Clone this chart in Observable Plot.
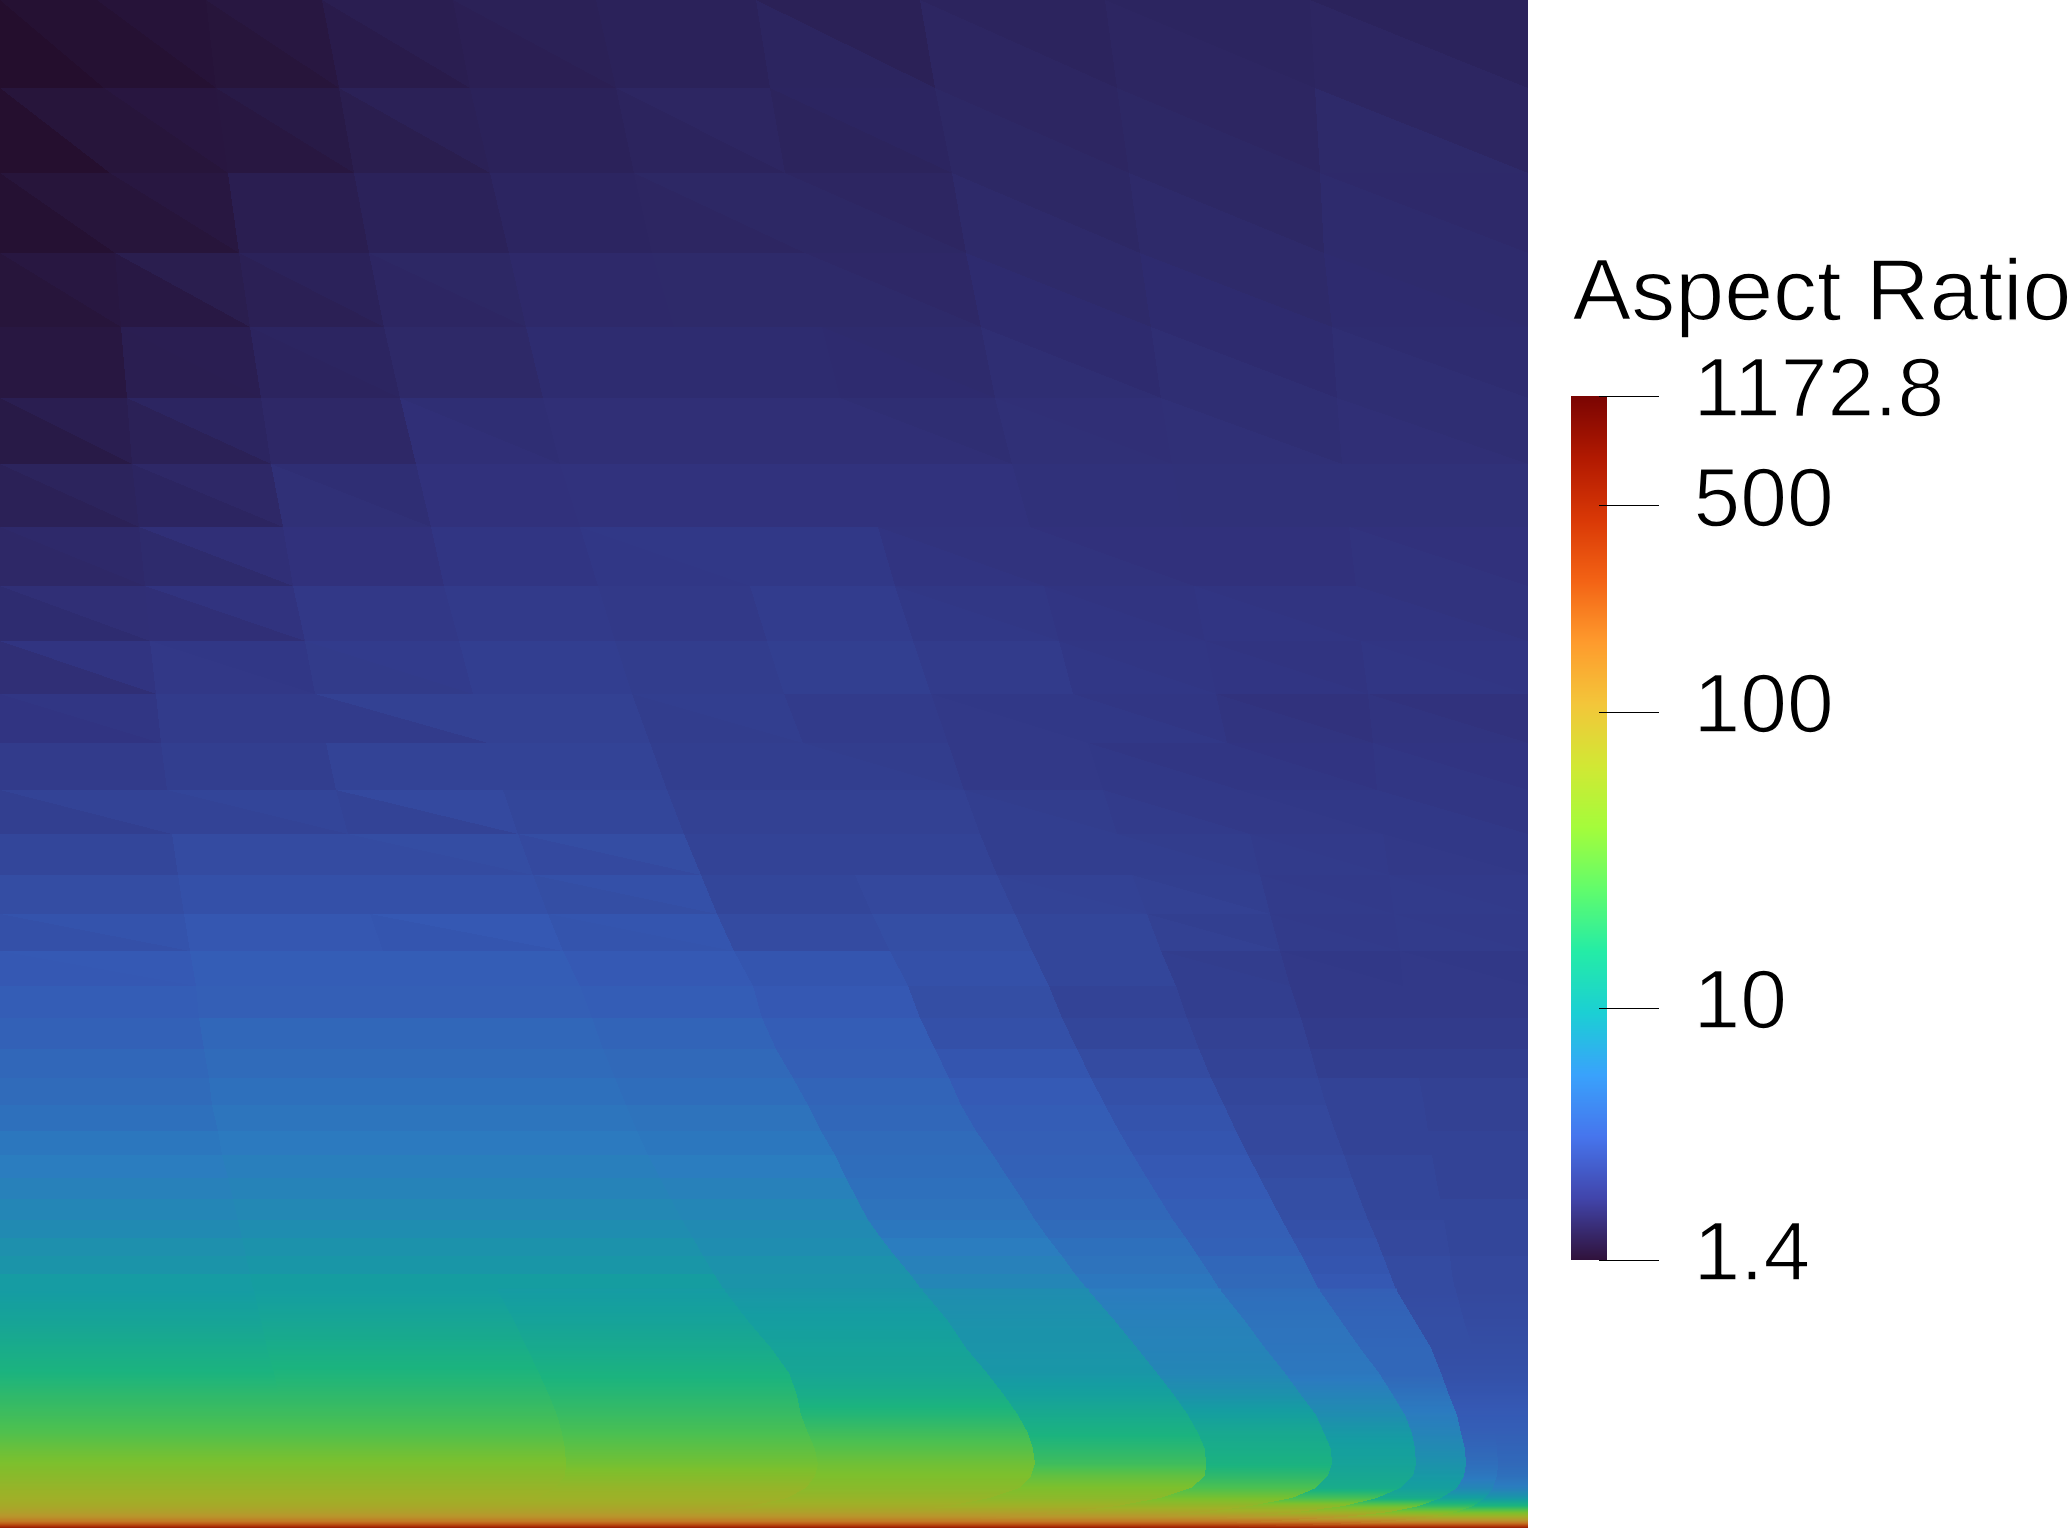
<!DOCTYPE html>
<html>
<head>
<meta charset="utf-8">
<script src="https://cdn.jsdelivr.net/npm/d3@7"></script>
<script src="https://cdn.jsdelivr.net/npm/@observablehq/plot@0.6"></script>
<style>
  html, body { margin: 0; padding: 0; background: #fff; }
  #chart { position: relative; width: 2068px; height: 1528px; overflow: hidden; }
  #chart svg { position: absolute; top: 0; max-width: none; }
</style>
</head>
<body>
<div id="chart"></div>
<script>
const legendTitle = "Aspect Ratio";
const vMin = 1.4, vMax = 1172.8;
const tickValues = [1172.8, 500, 100, 10, 1.4];
const tickLabels = ["1172.8", "500", "100", "10", "1.4"];
const turboStops = ["#30123b","#4145ab","#4675ed","#39a2fc","#1bcfd4","#24eca6","#61fc6c","#a4fc3b","#d1e834","#f3c63a","#fe9b2d","#f36315","#d93806","#b11901","#7a0402"];
const shade = 0.76; // surface lighting of the field relative to the colour bar

// Mesh rows of the upper field (position down the domain)
const meshRowY = [0,88,173,253,327,398,464,527,586,641,694,743,790,834,875,914,951,986,1018,1049,1078,1105,1131,1155,1178,1199,1220,1238,1256,1274,1290];

// Mesh column lines E1..E9 at each row position
const meshEdges = [
[97,206,322,453,596,756,920,1105,1310],
[104,216,339,470,616,770,935,1117,1315],
[110,228,354,490,634,785,952,1129,1320],
[115,239,369,509,652,805,966,1140,1324],
[121,250,384,526,674,822,981,1151,1332],
[127,261,400,543,691,840,995,1161,1337],
[132,271,416,560,709,856,1012,1172,1342],
[139,283,431,580,730,878,1030,1183,1349],
[145,293,444,598,750,895,1044,1194,1356],
[150,305,459,615,767,913,1059,1205,1361],
[156,315,473,632,784,931,1073,1216,1368],
[161,326,488,650,803,948,1088,1227,1373],
[167,336,503,667,820,964,1103,1239,1377],
[172,348,518,684,837,980,1117,1250,1383],
[178,358,533,701,855,997,1132,1260,1389],
[184,370,548,717,872,1015,1147,1270,1394],
[190,383,563,734,890,1032,1161,1280,1400],
[196,392,580,753,908,1049,1176,1290,1403],
[199,401,592,762,920,1062,1187,1301,1410],
[204,411,603,776,935,1077,1199,1310,1415],
[209,420,615,793,949,1091,1211,1318,1419],
[212,428,626,808,961,1105,1224,1326,1424],
[218,436,637,821,976,1119,1236,1335,1428],
[222,444,648,835,993,1133,1248,1344,1432],
[228,452,660,846,1008,1147,1260,1352,1436],
[233,460,671,857,1022,1160,1271,1360,1440],
[238,467,682,868,1035,1173,1282,1368,1444],
[242,475,693,881,1048,1186,1292,1376,1447],
[246,482,703,895,1062,1198,1302,1383,1450],
[250,490,714,910,1075,1210,1311,1390,1452],
[253,497,724,922,1088,1220,1319,1396,1455]];

// Aspect ratio of the lower-left triangle of each cell, rows 0..16, columns B0..B9
const lowerTriangles = [
[1.40,1.45,1.52,1.66,1.74,1.81,1.87,1.89,1.89,1.89],
[1.42,1.52,1.57,1.70,1.80,1.85,1.84,1.92,1.92,1.98],
[1.45,1.52,1.72,1.80,1.88,1.89,1.92,1.98,1.98,2.01],
[1.52,1.60,1.76,1.90,1.97,1.98,1.98,2.03,2.03,2.03],
[1.57,1.71,1.86,1.96,2.05,2.05,2.03,2.08,2.08,2.08],
[1.63,1.78,1.95,2.12,2.11,2.11,2.11,2.13,2.13,2.11],
[1.78,1.88,2.13,2.19,2.20,2.20,2.20,2.16,2.15,2.15],
[1.94,2.01,2.19,2.29,2.34,2.37,2.25,2.22,2.19,2.22],
[2.04,2.12,2.38,2.44,2.40,2.50,2.37,2.29,2.29,2.25],
[2.11,2.39,2.46,2.59,2.52,2.60,2.48,2.35,2.28,2.32],
[2.27,2.48,2.48,2.66,2.53,2.48,2.40,2.37,2.24,2.24],
[2.48,2.57,2.75,2.75,2.57,2.57,2.40,2.37,2.32,2.32],
[2.60,2.75,2.75,2.85,2.66,2.66,2.57,2.48,2.40,2.37],
[2.85,3.05,3.05,2.98,2.75,2.75,2.57,2.57,2.48,2.40],
[3.11,3.26,3.26,3.15,2.85,2.94,2.75,2.66,2.48,2.48],
[3.26,3.56,3.49,3.40,3.05,3.15,2.85,2.66,2.48,2.48],
[3.61,3.86,3.86,3.66,3.49,3.26,2.85,2.57,2.40,2.40]];

// Aspect ratio of the upper-right triangle of each cell, rows 0..16
const upperTriangles = [
[1.45,1.50,1.57,1.72,1.77,1.81,1.78,1.85,1.87,1.83],
[1.52,1.56,1.63,1.78,1.80,1.89,1.88,1.89,1.89,1.89],
[1.52,1.57,1.72,1.80,1.88,1.92,1.89,1.92,1.92,1.97],
[1.57,1.70,1.81,1.92,1.97,1.98,1.94,1.98,1.98,2.01],
[1.57,1.73,1.88,1.96,2.05,2.05,2.01,2.03,2.03,2.05],
[1.72,1.88,1.95,2.10,2.11,2.11,2.08,2.11,2.08,2.08],
[1.84,1.95,2.09,2.19,2.20,2.20,2.20,2.16,2.15,2.15],
[1.97,2.12,2.19,2.29,2.37,2.37,2.22,2.19,2.19,2.19],
[2.11,2.23,2.38,2.44,2.40,2.50,2.33,2.25,2.25,2.22],
[2.25,2.34,2.49,2.59,2.52,2.60,2.48,2.32,2.25,2.28],
[2.32,2.48,2.66,2.66,2.57,2.48,2.37,2.32,2.21,2.21],
[2.48,2.57,2.75,2.75,2.57,2.53,2.40,2.32,2.27,2.27],
[2.75,2.81,2.98,2.85,2.66,2.66,2.53,2.40,2.37,2.32],
[2.85,3.05,3.11,3.11,2.75,2.75,2.57,2.53,2.43,2.37],
[3.11,3.26,3.26,3.26,2.85,2.94,2.71,2.60,2.43,2.43],
[3.37,3.56,3.61,3.49,3.05,3.15,2.85,2.60,2.43,2.43],
[3.66,3.86,3.86,3.66,3.49,3.26,2.85,2.53,2.37,2.37]];

// Aspect ratio per cell, rows 17..29
const middleCells = [
[3.86,4.00,4.00,3.86,3.61,3.15,2.75,2.57,2.40,2.40],
[4.13,4.42,4.42,4.28,3.86,3.26,2.85,2.66,2.48,2.48],
[4.42,4.74,4.74,4.58,4.00,3.49,3.05,2.75,2.57,2.57],
[4.74,5.07,5.07,4.90,4.28,3.73,3.26,2.85,2.75,2.66],
[5.07,5.43,5.43,5.25,4.42,3.86,3.37,2.94,2.75,2.66],
[5.62,5.81,5.81,5.62,4.74,4.00,3.49,2.94,2.75,2.75],
[6.02,6.22,6.22,6.02,4.90,4.13,3.61,3.05,2.85,2.75],
[6.43,6.65,6.65,6.43,5.07,4.28,3.73,3.15,2.85,2.75],
[6.88,7.12,7.12,6.88,5.25,4.42,3.86,3.15,2.85,2.85],
[7.37,7.62,7.62,7.37,5.62,4.74,4.00,3.26,2.94,2.85],
[7.88,8.15,8.15,7.62,6.02,5.07,4.13,3.37,2.94,2.85],
[8.43,8.72,8.72,8.15,6.43,5.25,4.42,3.49,3.05,2.94],
[9.33,9.65,9.65,8.43,6.88,5.62,4.58,3.61,3.05,2.94]];

// Boundary-layer zone: sample rows, column line positions and values on each band
const wallRowY = [1290,1320,1347,1372,1394,1414,1432,1448,1463,1475,1487,1497,1505,1511,1516,1520,1523,1526,1528];
const wallEdges = [
[253,497,724,922,1088,1220,1319,1396,1455],
[260,513,747,947,1114,1244,1340,1414,1463],
[266,526,770,965,1136,1264,1359,1430,1472],
[273,538,788,986,1156,1284,1378,1440,1479],
[278,548,796,1003,1173,1300,1392,1448,1485],
[282,556,800,1017,1187,1315,1404,1456,1490],
[283,561,807,1027,1197,1323,1411,1460,1494],
[285,564,814,1032,1204,1330,1414,1464,1496],
[286,565,817,1034,1205,1331,1415,1465,1497],
[285,564,814,1030,1204,1327,1412,1463,1496],
[281,554,805,1019,1190,1315,1399,1456,1492],
[270,536,786,989,1159,1291,1376,1440,1484],
[240,485,750,947,1116,1249,1343,1418,1472],
[184,408,689,895,1065,1205,1296,1389,1455],
[102,306,612,837,1003,1149,1234,1342,1430],
[41,179,536,770,942,1083,1168,1272,1390],
[0,51,434,700,885,1013,1092,1201,1330],
[0,0,255,620,800,918,989,1083,1220],
[0,0,100,400,500,600,700,800,900]];
const wallValues = [
[9.33,9.65,9.33,8.72,7.62,6.02,4.90,4.00,3.05,2.94],
[11.0,11.4,10.7,9.65,8.15,6.43,5.25,4.28,3.15,3.05],
[13.1,13.5,12.6,10.7,8.43,6.65,5.43,4.42,3.15,3.15],
[15.5,16.0,15.0,11.4,8.72,6.88,5.62,4.42,3.26,3.26],
[18.9,18.9,17.7,13.5,10.3,8.15,6.65,5.25,3.49,3.49],
[22.4,22.4,21.0,17.1,12.6,9.99,7.62,6.02,3.73,3.73],
[26.7,26.7,25.0,22.4,15.0,12.2,9.00,6.65,4.00,4.00],
[33.7,33.7,30.5,28.3,18.3,13.5,9.99,7.37,4.42,4.28],
[41.0,41.0,37.0,36.0,22.4,15.0,10.7,8.15,4.90,4.58],
[48.5,48.5,45.0,41.0,31.5,18.9,11.8,9.00,5.62,5.07],
[58.0,58.0,57.0,48.5,41.0,25.7,13.1,9.99,6.88,6.22],
[66.0,66.0,64.0,58.0,50.5,38.5,24.0,13.1,9.99,8.72],
[75.0,75.0,75.0,70.0,66.0,58.0,50.5,34.0,19.6,16.0],
[89.0,89.0,89.0,86.0,86.0,80.0,73.0,62.0,41.0,36.0],
[112,112,112,112,112,108,105,98.0,80.0,70.0],
[157,157,157,157,157,157,157,157,137,120],
[236,236,236,236,236,236,236,236,236,206],
[462,462,462,462,462,462,462,462,462,432],
[848,848,848,848,848,848,848,848,848,848]];

// ---- tables the marks read ----
const S = 1528;
const triangles = [];
for (let r = 0; r < meshRowY.length - 1; ++r) {
  const yT = meshRowY[r], yB = meshRowY[r + 1];
  const low = r < lowerTriangles.length ? lowerTriangles[r] : middleCells[r - lowerTriangles.length];
  const upp = r < upperTriangles.length ? upperTriangles[r] : middleCells[r - upperTriangles.length];
  for (let b = 0; b < 10; ++b) {
    const TL = b ? meshEdges[r][b - 1] : 0, TR = b < 9 ? meshEdges[r][b] : S;
    const BL = b ? meshEdges[r + 1][b - 1] : 0, BR = b < 9 ? meshEdges[r + 1][b] : S;
    const a = `l${r}-${b}`, c = `u${r}-${b}`;
    triangles.push({id: a, y: yT, x1: TL, x2: TL, v: low[b]}, {id: a, y: yB, x1: BL, x2: BR, v: low[b]});
    triangles.push({id: c, y: yT, x1: TL, x2: TR, v: upp[b]}, {id: c, y: yB, x1: BR, x2: BR, v: upp[b]});
  }
}
// One node per band per sample row; the raster shades within each band between its nodes
const wallNodes = [];
wallRowY.forEach((y, r) => {
  for (let b = 0; b < 10; ++b) {
    const L = b ? wallEdges[r][b - 1] : 0, R = b < 9 ? wallEdges[r][b] : S;
    wallNodes.push({x: (L + R) / 2, y, v: wallValues[r][b]});
  }
});
const rasterX0 = -2, rasterY0 = 1288;
function bandedField(index, w, h, X, Y, V) {
  const out = new Float64Array(w * h);
  for (let j = 0; j < h; ++j) {
    const y = Math.max(rasterY0 + j + 0.5, wallRowY[0]);
    const r = Math.min(d3.bisectRight(wallRowY, y) - 1, wallRowY.length - 2);
    const f = (y - wallRowY[r]) / (wallRowY[r + 1] - wallRowY[r]);
    const edges = wallEdges[r].map((e, k) => e + (wallEdges[r + 1][k] - e) * f);
    let b = 0;
    for (let i = 0; i < w; ++i) {
      const x = rasterX0 + i + 0.5;
      while (b < 9 && x >= edges[b]) ++b;
      out[j * w + i] = V[r * 10 + b] + (V[(r + 1) * 10 + b] - V[r * 10 + b]) * f;
    }
  }
  return out;
}

const turbo = d3.piecewise(d3.interpolateRgb, turboStops);
const shaded = (t) => { const c = d3.rgb(turbo(t)); return `rgb(${Math.round(c.r * shade)},${Math.round(c.g * shade)},${Math.round(c.b * shade)})`; };
const lg = (d) => Math.log10(d.v);

const field = Plot.plot({
  width: S, height: S, margin: 0,
  x: {domain: [0, S], range: [0, S], axis: null},
  y: {domain: [0, S], range: [0, S], axis: null},
  color: {type: "linear", domain: [Math.log10(vMin), Math.log10(vMax)], interpolate: shaded},
  style: {background: "transparent"},
  marks: [
    Plot.area(triangles, {x1: "x1", x2: "x2", y1: "y", z: "id", fill: lg, shapeRendering: "crispEdges"}),
    Plot.raster(wallNodes, {x: "x", y: "y", fill: lg, interpolate: bandedField, x1: rasterX0, x2: S, y1: rasterY0, y2: S, width: S - rasterX0, height: S - rasterY0, imageRendering: "pixelated"})
  ]
});
field.style.left = "0px";
document.getElementById("chart").append(field);

// Colour bar: a sweep of the log scale, one level per pixel
const barSteps = 864;
const barLevels = d3.range(barSteps + 1).map((i) => vMin * Math.pow(vMax / vMin, i / barSteps));
const barCells = barLevels.slice(0, -1).map((v, i) => ({y1: v, y2: barLevels[i + 1], v: Math.sqrt(v * barLevels[i + 1])}));
const ticks = tickValues.map((v, i) => ({v, label: tickLabels[i]}));

const legend = Plot.plot({
  width: 540, height: S, margin: 0,
  x: {domain: [1528, 2068], range: [0, 540], axis: null},
  y: {type: "log", domain: [vMin, vMax], range: [1260, 396], axis: null},
  color: {type: "log", domain: [vMin, vMax], interpolate: turbo},
  style: {background: "transparent", fontFamily: "'Liberation Sans', Arial, sans-serif"},
  marks: [
    Plot.rect(barCells, {x1: 1571, x2: 1607, y1: "y1", y2: "y2", fill: "v", shapeRendering: "crispEdges"}),
    Plot.ruleY(ticks, {y: "v", x1: 1599, x2: 1659, stroke: "#000", strokeWidth: 1, shapeRendering: "crispEdges"}),
    Plot.text(ticks, {y: "v", x: 1695, dx: -2, dy: -7, text: "label", textAnchor: "start", lineAnchor: "middle", fontSize: 84, fill: "#000", stroke: "#fff", strokeWidth: 1.4, paintOrder: "normal"}),
    Plot.text([legendTitle], {y: [vMax], x: 1572, dy: -105, text: (d) => d, textAnchor: "start", lineAnchor: "middle", fontSize: 88, fill: "#000", stroke: "#fff", strokeWidth: 1.4, paintOrder: "normal"})
  ]
});
legend.style.left = "1528px";
document.getElementById("chart").append(legend);
</script>
</body>
</html>
